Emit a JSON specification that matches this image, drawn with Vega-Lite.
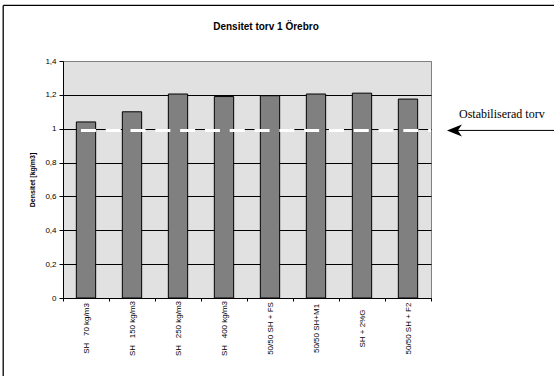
{
  "$schema": "https://vega.github.io/schema/vega-lite/v6.json",
  "width": 368,
  "height": 237,
  "autosize": {"type": "none"},
  "padding": {"left": 63, "top": 61, "right": 123, "bottom": 78},
  "background": "white",
  "title": {
    "text": "Densitet torv 1 Örebro",
    "font": "Liberation Sans",
    "fontSize": 10,
    "fontWeight": "bold",
    "color": "black",
    "anchor": "middle",
    "dx": 19,
    "offset": -27
  },
  "config": {
    "view": {"fill": "#e1e1e1", "stroke": "#808080", "strokeWidth": 1},
    "axis": {
      "labelFont": "Liberation Sans",
      "titleFont": "Liberation Sans",
      "labelColor": "black",
      "titleColor": "black",
      "domainColor": "black",
      "tickColor": "black",
      "domainWidth": 1,
      "tickWidth": 1
    }
  },
  "resolve": {"scale": {"x": "independent"}, "axis": {"x": "independent"}},
  "layer": [
    {
      "data": {
        "values": [
          {"behandling": "SH\u00a0\u00a0\u00a070 kg/m3", "densitet": 1.04},
          {"behandling": "SH\u00a0\u00a0\u00a0150 kg/m3", "densitet": 1.1},
          {"behandling": "SH\u00a0\u00a0\u00a0250 kg/m3", "densitet": 1.205},
          {"behandling": "SH\u00a0\u00a0\u00a0400 kg/m3", "densitet": 1.19},
          {"behandling": "50/50 SH + FS", "densitet": 1.195},
          {"behandling": "50/50 SH+M1", "densitet": 1.205},
          {"behandling": "SH + 2%G", "densitet": 1.21},
          {"behandling": "50/50 SH + F2", "densitet": 1.175}
        ]
      },
      "mark": {"type": "bar", "fill": "#808080", "stroke": "black", "strokeWidth": 1, "width": {"band": 0.42}},
      "encoding": {
        "x": {
          "field": "behandling",
          "type": "nominal",
          "sort": null,
          "scale": {"paddingInner": 0, "paddingOuter": 0},
          "axis": {
            "title": null,
            "tickBand": "extent",
            "tickSize": 3,
            "labelAngle": 270,
            "labelAlign": "center",
            "labelBaseline": "middle",
            "labelPadding": 27,
            "labelFontSize": 8,
            "labelOverlap": false
          }
        },
        "y": {
          "field": "densitet",
          "type": "quantitative",
          "scale": {"domain": [0, 1.4], "nice": false},
          "axis": {
            "title": "Densitet [kg/m3]",
            "titleFontSize": 7,
            "titleFontWeight": "bold",
            "titlePadding": 9,
            "values": [0, 0.2, 0.4, 0.6, 0.8, 1, 1.2, 1.4],
            "tickCount": 8,
            "labelOverlap": false,
            "labelBound": false,
            "labelExpr": "replace(format(datum.value, '~g'), '.', ',')",
            "labelFontSize": 8,
            "labelPadding": 3,
            "tickSize": 4,
            "grid": true,
            "gridColor": {"condition": {"test": "datum.value >= 1.4", "value": "#808080"}, "value": "black"},
            "gridWidth": 1
          }
        }
      }
    },
    {
      "data": {"values": [{"etikett": "Ostabiliserad torv", "densitet": 0.99}]},
      "mark": {"type": "rule", "color": "white", "strokeWidth": 3, "strokeDash": [15, 9.8]},
      "encoding": {
        "x": {"datum": 0.39, "type": "quantitative", "scale": {"domain": [0, 8], "nice": false, "zero": false}, "axis": null},
        "x2": {"datum": 8},
        "y": {"field": "densitet", "type": "quantitative", "scale": {"domain": [0, 1.4], "nice": false}}
      }
    },
    {
      "data": {"values": [{"etikett": "Ostabiliserad torv", "densitet": 0.99}]},
      "mark": {"type": "rule", "color": "black", "strokeWidth": 1},
      "encoding": {
        "x": {"datum": 8.45, "type": "quantitative", "scale": {"domain": [0, 8], "nice": false, "zero": false}, "axis": null},
        "x2": {"datum": 11},
        "y": {"field": "densitet", "type": "quantitative", "scale": {"domain": [0, 1.4], "nice": false}}
      }
    },
    {
      "data": {"values": [{"etikett": "Ostabiliserad torv", "densitet": 0.99}]},
      "mark": {"type": "point", "shape": "M-1,0L1,-0.8L0.45,0L1,0.8Z", "size": 225, "filled": true, "color": "black", "opacity": 1},
      "encoding": {
        "x": {"datum": 8.51, "type": "quantitative", "scale": {"domain": [0, 8], "nice": false, "zero": false}, "axis": null},
        "y": {"field": "densitet", "type": "quantitative", "scale": {"domain": [0, 1.4], "nice": false}}
      }
    },
    {
      "data": {"values": [{"etikett": "Ostabiliserad torv", "densitet": 0.99}]},
      "mark": {"type": "text", "font": "Liberation Serif", "fontSize": 12, "color": "black", "align": "center", "baseline": "middle"},
      "encoding": {
        "x": {"datum": 9.54, "type": "quantitative", "scale": {"domain": [0, 8], "nice": false, "zero": false}, "axis": null},
        "y": {"datum": 1.089, "type": "quantitative", "scale": {"domain": [0, 1.4], "nice": false}},
        "text": {"field": "etikett"}
      }
    },
    {
      "data": {"values": [{"kant": "topp"}]},
      "mark": {"type": "rule", "color": "black", "strokeWidth": 1.3},
      "encoding": {
        "x": {"datum": -1.3, "type": "quantitative", "scale": {"domain": [0, 8], "nice": false, "zero": false}, "axis": null},
        "x2": {"datum": 11},
        "y": {"datum": 1.728, "type": "quantitative", "scale": {"domain": [0, 1.4], "nice": false}}
      }
    },
    {
      "data": {"values": [{"kant": "vänster"}]},
      "mark": {"type": "rule", "color": "black", "strokeWidth": 1.3},
      "encoding": {
        "x": {"datum": -1.3, "type": "quantitative", "scale": {"domain": [0, 8], "nice": false, "zero": false}, "axis": null},
        "y": {"datum": 1.728, "type": "quantitative", "scale": {"domain": [0, 1.4], "nice": false}},
        "y2": {"datum": -0.5}
      }
    }
  ]
}
